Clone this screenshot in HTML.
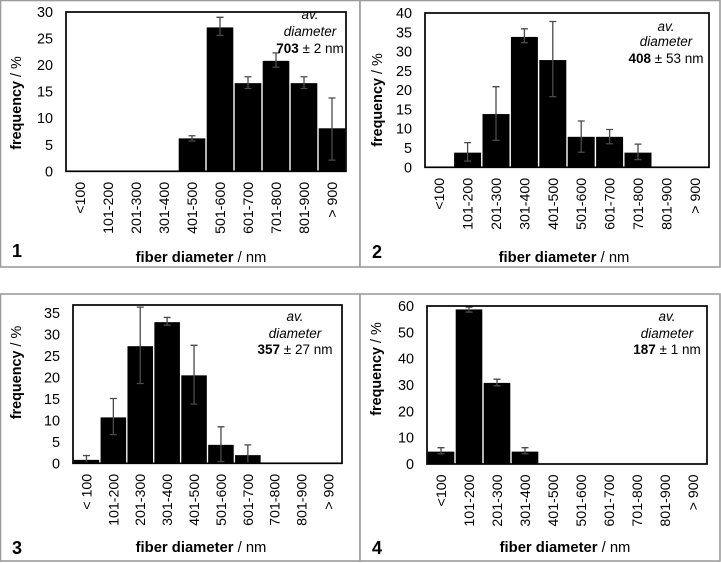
<!DOCTYPE html>
<html lang="en">
<head>
<meta charset="utf-8">
<title>Fiber diameter histograms</title>
<style>
html,body{margin:0;padding:0;background:#fff;}
body{width:721px;height:563px;overflow:hidden;}
svg{display:block;font-family:"Liberation Sans",Arial,sans-serif;filter:blur(0.35px);}
</style>
</head>
<body>
<svg id="figure" width="721" height="563" viewBox="0 0 721 563" xmlns="http://www.w3.org/2000/svg"></svg>
<script>
const categories = ["<100","101-200","201-300","301-400","401-500","501-600","601-700","701-800","801-900","> 900"];
const categoriesPanel3 = ["< 100","101-200","201-300","301-400","401-500","501-600","601-700","701-800","801-900","> 900"];

const panel1Ticks = [0,5,10,15,20,25,30];
const panel1Values = [0,0,0,0,6.2,27.1,16.6,20.8,16.6,8.1];
const panel1Upper = [null,null,null,null,6.7,29,17.8,22.3,17.8,13.8];
const panel1Lower = [null,null,null,null,5.7,25.6,15.6,19.6,15.6,2.1];

const panel2Ticks = [0,5,10,15,20,25,30,35,40];
const panel2Values = [0,3.8,13.8,33.8,27.8,7.9,7.9,3.8,0,0];
const panel2Upper = [null,6.4,20.9,35.9,37.8,12,9.8,6,null,null];
const panel2Lower = [null,1.6,7,32.3,18.3,3.9,6.1,2,null,null];

const panel3Ticks = [0,5,10,15,20,25,30,35];
const panel3Values = [0.8,10.7,27.3,32.9,20.5,4.3,1.9,0,0,0];
const panel3Upper = [1.8,15.1,36.4,34,27.5,8.5,4.3,null,null,null];
const panel3Lower = [0,6.7,18.6,32.2,13.8,0.4,0,null,null,null];

const panel4Ticks = [0,10,20,30,40,50,60];
const panel4Values = [4.7,58.7,30.8,4.7,0,0,0,0,0,0];
const panel4Upper = [6.2,59.6,32.2,6.2,null,null,null,null,null,null];
const panel4Lower = [3.9,57.7,29.7,3.9,null,null,null,null,null,null];

const NS = "http://www.w3.org/2000/svg";
const figure = document.getElementById("figure");

function make(parent, tag, props, text) {
  const el = document.createElementNS(NS, tag);
  for (const key in props) el.setAttribute(key, props[key]);
  if (text !== undefined) el.textContent = text;
  parent.appendChild(el);
  return el;
}

function drawPanel(p) {
  const g = make(figure, "g", {});
  
  

  const frame = make(g, "rect", {x:p.fx, y:p.fy, width:p.fw, height:p.fh, fill:"#fff", stroke:"#9c9c9c", "stroke-width":1.6});
  
  

  const band = (p.right - p.left) / p.cats.length;
  const barW = band * 0.95;
  const xCenter = i => p.left + band * (i + 0.5);
  const yScale = v => p.bottom - (v / p.yMax) * (p.bottom - p.top);

  p.values.forEach((v, i) => {
    if (v <= 0) return;
    const bar = make(g, "rect", {x:xCenter(i) - barW / 2, y:yScale(v), width:barW, height:p.bottom - yScale(v), fill:"#000"});
    
    
  });

  p.upper.forEach((u, i) => {
    if (u === null) return;
    const cx = xCenter(i);
    const yu = yScale(u);
    const yl = yScale(p.lower[i]);
    const err = make(g, "path", {d:`M${cx-3.5} ${yu}H${cx+3.5}M${cx} ${yu}V${yl}M${cx-3.5} ${yl}H${cx+3.5}`, fill:"none", stroke:"#4a4a4a", "stroke-width":1.3});
    
    
  });

  const plot = make(g, "rect", {x:p.left, y:p.top, width:p.right - p.left, height:p.bottom - p.top, fill:"none", stroke:"#000", "stroke-width":1.7});
  
  

  p.ticks.forEach(t => {
    const label = make(g, "text", {x:p.left - 13, y:yScale(t) + 5, "text-anchor":"end", "font-size":14.4, fill:"#000"}, String(t));
    
    
  });

  p.cats.forEach((c, i) => {
    const cx = xCenter(i) + 1;
    const ty = p.bottom + 10.5;
    const label = make(g, "text", {x:cx, y:ty, transform:`rotate(-90 ${cx} ${ty})`, "text-anchor":"end", "dominant-baseline":"central", "font-size":14.2, fill:"#000"}, c);
    
    
  });

  const yTitle = make(g, "text", {x:p.yTitleX, y:p.yTitleY, transform:`rotate(-90 ${p.yTitleX} ${p.yTitleY})`, "text-anchor":"middle", "dominant-baseline":"central", "font-size":14.4, fill:"#000"});
  
  
  make(yTitle, "tspan", {"font-weight":"bold"}, "frequency");
  make(yTitle, "tspan", {}, " / %");

  const xTitle = make(g, "text", {x:p.xTitleX, y:p.xTitleY, "text-anchor":"middle", "font-size":14.8, fill:"#000"});
  
  
  make(xTitle, "tspan", {"font-weight":"bold"}, "fiber diameter");
  make(xTitle, "tspan", {}, " / nm");

  const number = make(g, "text", {x:p.numX, y:p.numY, "font-size":18, "font-weight":"bold", fill:"#000"}, p.id);
  
  

  const note1 = make(g, "text", {x:p.noteX, y:p.noteY[0], "text-anchor":"middle", "font-size":13.5, "font-style":"italic", fill:"#000"}, "av.");
  
  

  const note2 = make(g, "text", {x:p.noteX, y:p.noteY[1], "text-anchor":"middle", "font-size":13.5, "font-style":"italic", fill:"#000"}, "diameter");
  
  

  const note3 = make(g, "text", {x:p.noteX, y:p.noteY[2], "text-anchor":"middle", "font-size":13.5, fill:"#000"});
  
  
  make(note3, "tspan", {"font-weight":"bold"}, p.avg);
  make(note3, "tspan", {}, " ± " + p.err + " nm");
}

drawPanel({id:"1", cats:categories, values:panel1Values, upper:panel1Upper, lower:panel1Lower, ticks:panel1Ticks, yMax:30,
  left:66, right:346, top:12, bottom:171.3, fx:0.5, fy:0.5, fw:359.5, fh:266.5,
  yTitleX:17, yTitleY:103, xTitleX:201, xTitleY:262, numX:12, numY:257, noteX:310, noteY:[19,36,53], avg:"703", err:"2"});

drawPanel({id:"2", cats:categories, values:panel2Values, upper:panel2Upper, lower:panel2Lower, ticks:panel2Ticks, yMax:40,
  left:425, right:709, top:13, bottom:167.3, fx:360, fy:0.5, fw:360, fh:266.5,
  yTitleX:378, yTitleY:100, xTitleX:564, xTitleY:262, numX:372, numY:258, noteX:666, noteY:[31,46,63], avg:"408", err:"53"});

drawPanel({id:"3", cats:categoriesPanel3, values:panel3Values, upper:panel3Upper, lower:panel3Lower, ticks:panel3Ticks, yMax:36.9,
  left:73, right:342, top:305, bottom:463.3, fx:0.5, fy:294, fw:359.5, fh:267,
  yTitleX:17, yTitleY:372.5, xTitleX:201, xTitleY:552, numX:12, numY:554, noteX:295, noteY:[321,338,354], avg:"357", err:"27"});

drawPanel({id:"4", cats:categories, values:panel4Values, upper:panel4Upper, lower:panel4Lower, ticks:panel4Ticks, yMax:60,
  left:427, right:707, top:306, bottom:464, fx:360, fy:294, fw:360, fh:267,
  yTitleX:377, yTitleY:369, xTitleX:565, xTitleY:552, numX:372, numY:554, noteX:667, noteY:[321,338,354], avg:"187", err:"1"});
</script>
</body>
</html>
